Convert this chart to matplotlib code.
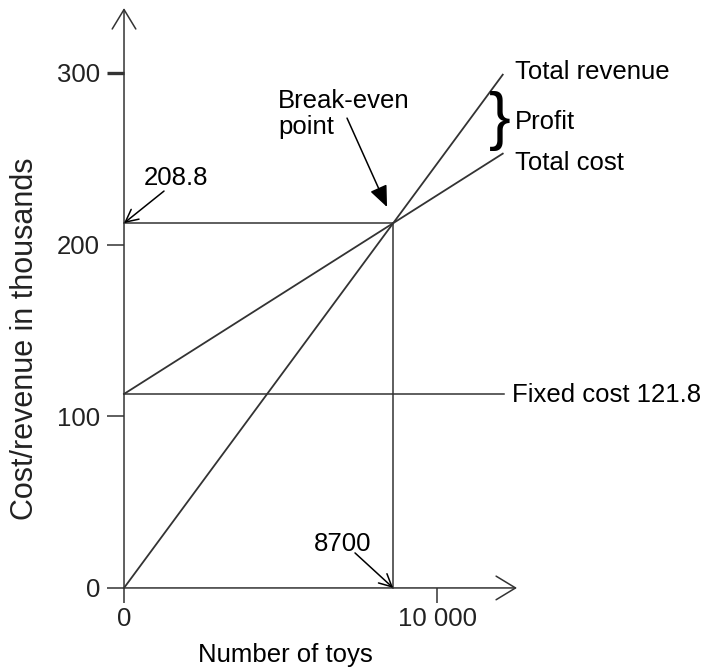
import matplotlib
matplotlib.use("Agg")
import matplotlib.pyplot as plt

plt.rcParams['font.family'] = ['Liberation Sans', 'DejaVu Sans']

# values
rev_x = [0, 12100]
rev_y = [0, 299]
cost_x = [0, 12100]
cost_y = [113, 253]
fixed_cost = 113
fixed_x = [0, 12140]
break_even = (8600, 212.5)
y_ticks = [0, 100, 200, 300]
x_ticks = [0, 10000]
x_tick_labels = ['0', '10 000']

LINE = '#333333'
FS = 18.5

fig = plt.figure(figsize=(7.09, 6.70), dpi=100)
ax = fig.add_axes([0, 0, 1, 1])
ax.set_xlim(-3962, 18690)
ax.set_ylim(-47.8, 342.5)

# axes through the origin with open arrow heads
for s in ['top', 'right', 'left', 'bottom']:
    ax.spines[s].set_visible(False)
ax.spines['left'].set_position(('data', 0))
ax.spines['bottom'].set_position(('data', 0))
arrow_axis = dict(arrowstyle='->,head_length=1.4,head_width=0.85', color=LINE,
                  lw=1.1, shrinkA=0, shrinkB=0, mutation_scale=10)
ax.annotate('', xy=(0, 337.8), xytext=(0, 0), arrowprops=arrow_axis)
ax.annotate('', xy=(12556, 0), xytext=(0, 0), arrowprops=arrow_axis)

ax.set_yticks(y_ticks)
ax.set_yticklabels([str(v) for v in y_ticks])
ax.set_xticks(x_ticks)
ax.set_xticklabels(x_tick_labels)
ax.tick_params(axis='y', direction='out', length=12.2, width=1.1, color=LINE,
               pad=5, labelsize=FS, labelcolor='#222222')
ax.tick_params(axis='x', direction='out', length=10.8, width=1.1, color=LINE,
               pad=3, labelsize=FS, labelcolor='#222222')
ax.yaxis.get_major_ticks()[3].tick1line.set_markeredgewidth(2.4)

# lines
ax.plot(rev_x, rev_y, color=LINE, lw=1.3)
ax.plot(cost_x, cost_y, color=LINE, lw=1.3)
ax.plot(fixed_x, [fixed_cost, fixed_cost], color=LINE, lw=1.1)
ax.plot([0, break_even[0]], [break_even[1], break_even[1]], color=LINE, lw=1.1)
ax.plot([break_even[0], break_even[0]], [0, break_even[1]], color=LINE, lw=1.1)

# labels on the right
ax.text(12490, 300.5, 'Total revenue', fontsize=FS, va='center', ha='left')
ax.text(12490, 271.6, 'Profit', fontsize=FS, va='center', ha='left')
ax.text(12490, 247.7, 'Total cost', fontsize=FS, va='center', ha='left')
ax.text(12010, 272, '}', fontsize=47, va='center', ha='center')
ax.text(12400, 112.4, 'Fixed cost 121.8', fontsize=FS, va='center', ha='left')

# pointers
thin = dict(arrowstyle='->,head_length=0.9,head_width=0.45', color='black',
            lw=1.1, shrinkA=0, shrinkB=0, mutation_scale=10)
ax.text(1661, 238.8, '208.8', fontsize=FS, va='center', ha='center')
ax.annotate('', xy=(0, break_even[1]), xytext=(1278, 231.2), arrowprops=thin)
ax.text(6997, 25.6, '8700', fontsize=FS, va='center', ha='center')
ax.annotate('', xy=(break_even[0], 0), xytext=(7380, 20.4), arrowprops=thin)

ax.text(4920, 276, 'Break-even\npoint', fontsize=FS, va='center', ha='left',
        linespacing=1.1)
ax.annotate('', xy=(8403, 221.9), xytext=(7125, 273.7),
            arrowprops=dict(arrowstyle='-|>,head_length=1.3,head_width=0.55',
                            color='black', lw=1.1, shrinkA=0, shrinkB=0,
                            mutation_scale=10))

# axis titles
fig.text(25 / 709, 0.494, 'Cost/revenue in thousands', fontsize=22,
         rotation=90, va='center', ha='center', color='#222222')
fig.text(285 / 709, 1 - 655 / 670, 'Number of toys', fontsize=FS,
         va='center', ha='center')

fig.savefig('out.png', dpi=100)
